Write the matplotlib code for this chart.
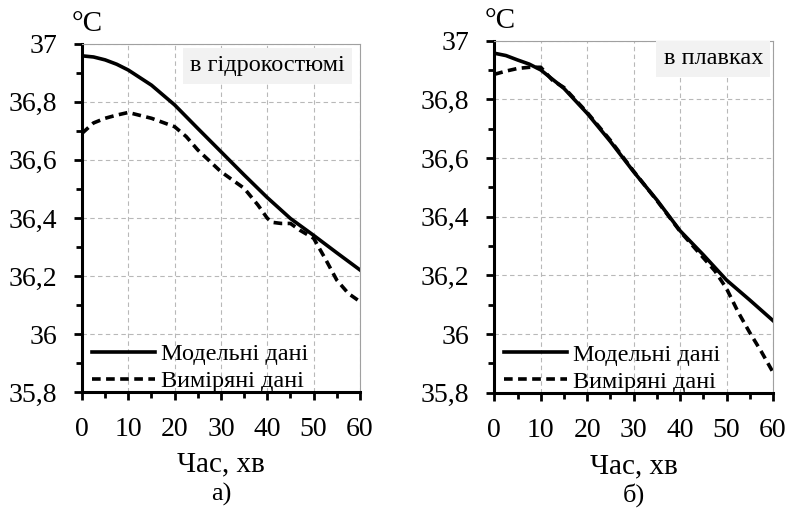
import matplotlib
matplotlib.use('Agg')
import matplotlib.pyplot as plt
from matplotlib.ticker import MultipleLocator, FuncFormatter

plt.rcParams['font.family'] = ['Liberation Serif', 'DejaVu Serif']

# дані, зчитані з графіка
# а) в гідрокостюмі
t_mod_a = [0, 2.5, 5, 7.5, 10, 15, 20, 25, 30, 35, 40, 45, 50, 55, 60]
T_mod_a = [36.958, 36.954, 36.944, 36.929, 36.909, 36.857, 36.789, 36.708, 36.628, 36.548, 36.47, 36.398,
           36.34, 36.28, 36.221]
t_mes_a = [0, 2.5, 5, 7.5, 10, 15, 20, 22.5, 25, 30, 35, 38, 40, 41, 43, 45, 47, 50, 52.5, 55, 57.5, 60]
T_mes_a = [36.691, 36.727, 36.743, 36.754, 36.763, 36.743, 36.714, 36.68, 36.634, 36.559, 36.502, 36.444,
           36.399, 36.385, 36.381, 36.381, 36.358, 36.33, 36.26, 36.186, 36.14, 36.112]

# б) в плавках
t_mod_b = [0, 2.5, 5, 7.5, 10, 15, 20, 25, 30, 35, 40, 45, 50, 55, 60]
T_mod_b = [36.957, 36.949, 36.934, 36.92, 36.9, 36.837, 36.752, 36.656, 36.553, 36.457, 36.352, 36.27,
           36.184, 36.116, 36.046]
t_mes_b = [0, 2.5, 5, 7.5, 10, 12.5, 15, 20, 25, 30, 35, 40, 45, 47.5, 50, 52.5, 55, 57.5, 60]
T_mes_b = [36.885, 36.896, 36.905, 36.909, 36.909, 36.865, 36.84, 36.755, 36.66, 36.555, 36.455, 36.35,
           36.26, 36.215, 36.155, 36.075, 36.005, 35.94, 35.87]

labels = ['Модельні дані', 'Виміряні дані']
notes = ['в гідрокостюмі', 'в плавках']
panels = ['а)', 'б)']

fig = plt.figure(figsize=(7.89, 5.15), dpi=100)
ax1 = fig.add_axes([0.1039, 0.2384, 0.3523, 0.6769])
ax2 = fig.add_axes([0.6265, 0.2373, 0.3532, 0.6839])

data = [(t_mod_a, T_mod_a, t_mes_a, T_mes_a), (t_mod_b, T_mod_b, t_mes_b, T_mes_b)]
note_pos = [(0.946, 0.966), (0.964, 0.978)]


def comma(v, pos):
    return ('%g' % round(v, 2)).replace('.', ',')


for ax, (tm, Tm, te, Te), note, npos, pl in zip([ax1, ax2], data, notes, note_pos, panels):
    ax.plot(tm, Tm, color='black', lw=2.6, label=labels[0], solid_joinstyle='round')
    ax.plot(te, Te, color='black', lw=2.6, linestyle=(0, (2.4, 1.5)), label=labels[1])
    ax.set_xlim(0, 60)
    ax.set_ylim(35.8, 37)
    ax.xaxis.set_major_locator(MultipleLocator(10))
    ax.xaxis.set_minor_locator(MultipleLocator(5))
    ax.yaxis.set_major_locator(MultipleLocator(0.2))
    ax.yaxis.set_minor_locator(MultipleLocator(0.1))
    ax.yaxis.set_major_formatter(FuncFormatter(comma))
    ax.grid(True, which='major', color='#b8b8b8', lw=0.8, linestyle=(0, (4, 3)))
    ax.set_axisbelow(True)
    for s in ['left', 'bottom']:
        ax.spines[s].set_linewidth(2.2)
        ax.spines[s].set_color('black')
    for s in ['top', 'right']:
        ax.spines[s].set_linewidth(0.8)
        ax.spines[s].set_color('#a0a0a0')
    ax.tick_params(which='major', direction='out', length=6, width=2, color='black', labelsize=20)
    ax.tick_params(which='minor', direction='out', length=4.5, width=2, color='black')
    ax.tick_params(axis='y', pad=12)
    ax.tick_params(axis='x', pad=12)
    ax.set_xlabel('Час, хв', fontsize=21, va='baseline')
    ax.xaxis.set_label_coords(0.5, -0.228)
    ax.text(0.02, 1.037, '°C', transform=ax.transAxes, fontsize=21, ha='center', va='baseline')
    ax.text(0.5, -0.31, pl, transform=ax.transAxes, fontsize=19, ha='center', va='baseline')
    ax.text(npos[0], npos[1], note, transform=ax.transAxes, fontsize=17.5, ha='right', va='top',
            bbox=dict(boxstyle='square,pad=0.3', facecolor='#f2f2f2', edgecolor='none'))
    ax.legend(loc='lower left', bbox_to_anchor=(0.035, 0.0), frameon=False, fontsize=17.5,
              handlelength=2.6, handletextpad=0.25, borderaxespad=0, labelspacing=0.2, borderpad=0)

fig.savefig('out.png', dpi=100)
